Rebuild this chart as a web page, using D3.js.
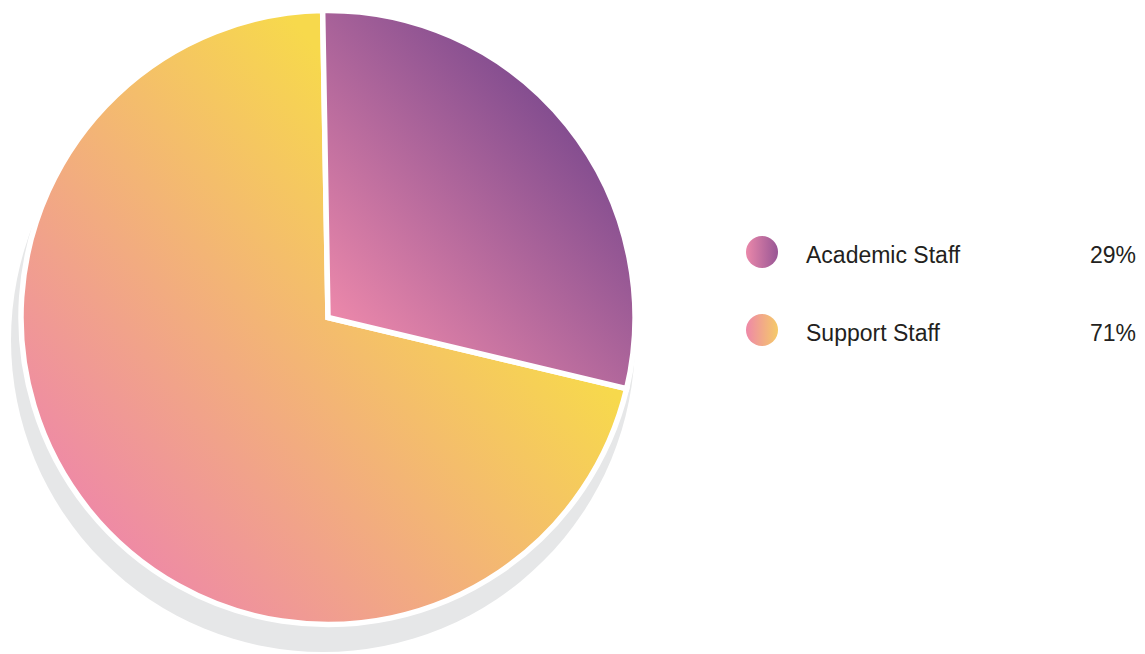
<!DOCTYPE html>
<html>
<head>
<meta charset="utf-8">
<script src="https://cdn.jsdelivr.net/npm/d3@7"></script>
<style>
  body { margin: 0; background: #fff; }
  svg { display: block; }
</style>
</head>
<body>
<svg id="chart"></svg>
<script>
// staff split
const categories = ["Academic Staff", "Support Staff"];
const shares = [29, 71];
const shareLabels = ["29%", "71%"];

// gradient stops per slice: [start, end]
const sliceColors = [["#ea87aa", "#6a3f89"], ["#ee87a9", "#f7d94c"]];
const legendColors = [["#ea88aa", "#985695"], ["#ee88a8", "#f5ca68"]];

let svgWidth = 1145
let svgHeight = 654
let cx = 328, cy = 317.5, radius = 307

var svg = d3.select("#chart")
    .attr("width", svgWidth)
    .attr("height", svgHeight);

var defs = svg.append("defs");

// slice gradients, user space relative to pie centre
var sliceVectors = [
    {x1: 6, y1: -5, x2: 282, y2: -257},
    {x1: -248, y1: 212, x2: 126, y2: -110}
];
sliceColors.forEach(function(c, i) {
    var g = defs.append("linearGradient")
        .attr("id", "slice" + i)
        .attr("gradientUnits", "userSpaceOnUse")
        .attr("x1", sliceVectors[i].x1).attr("y1", sliceVectors[i].y1)
        .attr("x2", sliceVectors[i].x2).attr("y2", sliceVectors[i].y2);
    g.append("stop").attr("offset", "0%").attr("stop-color", c[0]);
    g.append("stop").attr("offset", "100%").attr("stop-color", c[1]);
});

legendColors.forEach(function(c, i) {
    var g = defs.append("linearGradient")
        .attr("id", "legend" + i)
        .attr("x1", "0%").attr("y1", "0%")
        .attr("x2", "100%").attr("y2", "0%");
    g.append("stop").attr("offset", "0%").attr("stop-color", c[0]);
    g.append("stop").attr("offset", "100%").attr("stop-color", c[1]);
});

// grey drop shadow disc
svg.append("circle")
    .attr("cx", cx - 5)
    .attr("cy", cy + 22.5)
    .attr("r", radius + 5)
    .attr("fill", "#e6e7e8");

var rot = -1 * Math.PI / 180;
var pie = d3.pie().sort(null).startAngle(rot).endAngle(rot + 2 * Math.PI);
var arc = d3.arc().innerRadius(0).outerRadius(radius);

var arcs = pie(shares);

var chart = svg.append("g")
    .attr("transform", "translate(" + cx + "," + cy + ")");

// draw support slice first so the academic one sits on top
chart.selectAll("path.slice")
    .data(arcs.slice().reverse())
    .enter()
    .append("path")
    .attr("class", "slice")
    .attr("d", arc)
    .attr("fill", function(d) { return "url(#slice" + d.index + ")"; })
    .attr("stroke", "#fff")
    .attr("stroke-width", 5.5)
    .attr("stroke-linejoin", "miter");

// legend
var yScale = d3.scalePoint()
    .domain(categories)
    .range([252, 330]);

var legend = svg.append("g").attr("class", "legend");

var rows = legend.selectAll("g.row")
    .data(categories)
    .enter()
    .append("g")
    .attr("class", "row")
    .attr("transform", function(d) { return "translate(0," + yScale(d) + ")"; });

rows.append("circle")
    .attr("cx", 762)
    .attr("cy", 0)
    .attr("r", 16)
    .attr("fill", function(d, i) { return "url(#legend" + i + ")"; });

rows.append("text")
    .attr("x", 806)
    .attr("y", 11)
    .attr("font-family", "'Liberation Sans', Arial, sans-serif")
    .attr("font-size", 23)
    .attr("fill", "#231f20")
    .text(function(d) { return d; });

rows.append("text")
    .attr("x", 1136)
    .attr("y", 11)
    .attr("text-anchor", "end")
    .attr("font-family", "'Liberation Sans', Arial, sans-serif")
    .attr("font-size", 23)
    .attr("fill", "#231f20")
    .text(function(d, i) { return shareLabels[i]; });
</script>
</body>
</html>
